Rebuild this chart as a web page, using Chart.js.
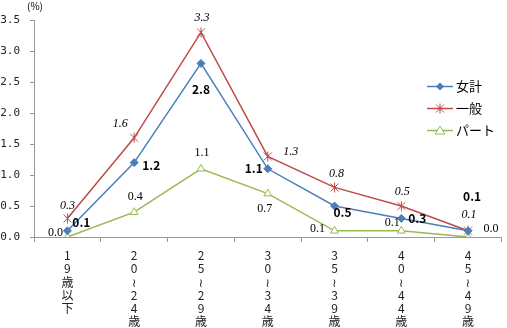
<!DOCTYPE html>
<html>
<head>
<meta charset="utf-8">
<script src="https://cdn.jsdelivr.net/npm/chart.js@4.4.1/dist/chart.umd.min.js"></script>
<style>
  html, body { margin: 0; padding: 0; background: #fff; }
  #wrap { position: relative; width: 507px; height: 328px; }
</style>
</head>
<body>
<div id="wrap"><canvas id="c" width="507" height="328"></canvas></div>
<script>
// Age groups (written vertically, one character per line)
const categories = [
  ['1','9','歳','以','下'],
  ['2','0','≀','2','4','歳'],
  ['2','5','≀','2','9','歳'],
  ['3','0','≀','3','4','歳'],
  ['3','5','≀','3','9','歳'],
  ['4','0','≀','4','4','歳'],
  ['4','5','≀','4','9','歳']
];
const seriesNames = ['女計', '一般', 'パート'];
const womenTotal = [0.1, 1.2, 2.8, 1.1, 0.5, 0.3, 0.1];
const general    = [0.3, 1.6, 3.3, 1.3, 0.8, 0.5, 0.1];
const partTime   = [0.0, 0.4, 1.1, 0.7, 0.1, 0.1, 0.0];
const yTicks     = [0, 0.5, 1.0, 1.5, 2.0, 2.5, 3.0, 3.5];

const colors = ['#4a7ebb', '#be4b48', '#98b954'];

// Per-point label offsets (px from the marker), styling only
const labelOffsets = [
  [[14,-8],[17,3],[0,26],[-14,0],[8,6],[16,0],[4,-34]],
  [[0,-13],[-14,-14],[1,-15],[23,-5],[2,-14],[1,-14],[1,-16]],
  [[-12,-4],[1,-15],[1,-16],[-3,15],[-17,-2],[-9,-8],[23,-8]]
];
const labelFonts = [
  'bold 12px "Noto Sans CJK JP", "DejaVu Sans"',
  'italic 12px "Liberation Serif", serif',
  '12px "Liberation Serif", serif'
];

// asterisk-style marker: x with a vertical stroke
function starMarker(color) {
  const cv = document.createElement('canvas');
  cv.width = 11; cv.height = 11;
  const g = cv.getContext('2d');
  g.strokeStyle = color; g.lineWidth = 1;
  g.beginPath();
  g.moveTo(1.5,1.5); g.lineTo(9.5,9.5);
  g.moveTo(9.5,1.5); g.lineTo(1.5,9.5);
  g.moveTo(5.5,0.5); g.lineTo(5.5,10.5);
  g.stroke();
  return cv;
}
const starImg = starMarker(colors[1]);

const valueLabels = {
  id: 'valueLabels',
  afterDatasetsDraw(chart) {
    const ctx = chart.ctx;
    ctx.save();
    ctx.textAlign = 'center';
    ctx.textBaseline = 'middle';
    ctx.fillStyle = '#000';
    chart.data.datasets.forEach((ds, di) => {
      const meta = chart.getDatasetMeta(di);
      ctx.font = labelFonts[di];
      meta.data.forEach((pt, i) => {
        const off = labelOffsets[di][i];
        ctx.fillText(ds.data[i].toFixed(1), pt.x + off[0], pt.y + off[1]);
      });
    });
    ctx.restore();
  }
};

const sideLegend = {
  id: 'sideLegend',
  afterDraw(chart) {
    const ctx = chart.ctx;
    ctx.save();
    const x0 = 427, x1 = 453, ys = [86.5, 108.5, 130.5];
    chart.data.datasets.forEach((ds, di) => {
      const y = ys[di];
      ctx.strokeStyle = ds.borderColor;
      ctx.lineWidth = 1.5;
      ctx.beginPath(); ctx.moveTo(x0, y); ctx.lineTo(x1, y); ctx.stroke();
      const cx = (x0 + x1) / 2;
      if (di === 0) {
        ctx.fillStyle = ds.borderColor;
        ctx.beginPath();
        ctx.moveTo(cx, y - 4); ctx.lineTo(cx + 4, y); ctx.lineTo(cx, y + 4); ctx.lineTo(cx - 4, y);
        ctx.closePath(); ctx.fill();
      } else if (di === 1) {
        ctx.drawImage(starImg, cx - 5.5, y - 5.5);
      } else {
        ctx.fillStyle = '#fff';
        ctx.lineWidth = 1;
        ctx.beginPath();
        ctx.moveTo(cx, y - 4.5); ctx.lineTo(cx + 5, y + 3.5); ctx.lineTo(cx - 5, y + 3.5);
        ctx.closePath(); ctx.fill(); ctx.stroke();
      }
      ctx.fillStyle = '#000';
      ctx.font = '13px "Noto Sans CJK JP"';
      ctx.textAlign = 'left';
      ctx.textBaseline = 'middle';
      ctx.fillText(ds.label, 456, y);
    });
    // unit caption
    ctx.font = '10px "Noto Sans CJK JP"';
    ctx.textAlign = 'left';
    ctx.fillText('(%)', 27, 6);
    ctx.restore();
  }
};

new Chart(document.getElementById('c'), {
  type: 'line',
  data: {
    labels: categories,
    datasets: [
      { label: seriesNames[0], data: womenTotal, borderColor: colors[0], backgroundColor: colors[0],
        borderWidth: 1.5, pointStyle: 'rectRot', pointRadius: 4, pointBorderWidth: 1 },
      { label: seriesNames[1], data: general, borderColor: colors[1], backgroundColor: colors[1],
        borderWidth: 1.5, pointStyle: starImg },
      { label: seriesNames[2], data: partTime, borderColor: colors[2], backgroundColor: '#fff',
        borderWidth: 1.5, pointStyle: 'triangle', pointRadius: 4.5, pointBorderWidth: 1 }
    ]
  },
  options: {
    responsive: false,
    animation: false,
    layout: { padding: { top: 20, right: 0, left: 0, bottom: 0 } },
    plugins: { legend: { display: false }, tooltip: { enabled: false } },
    scales: {
      x: {
        offset: true,
        grid: { offset: true, drawOnChartArea: false, tickLength: 5, color: '#999' },
        border: { color: '#999' },
        ticks: {
          autoSkip: false, maxRotation: 0, minRotation: 0, padding: 7,
          color: '#222',
          font: { family: '"Noto Sans CJK JP", "DejaVu Sans"', size: 12, lineHeight: 1.1 }
        },
        afterFit(scale) { scale.height = 91; scale.paddingLeft = 0; scale.paddingRight = 0; }
      },
      y: {
        min: 0, max: 3.5,
        afterBuildTicks(scale) { scale.ticks = yTicks.map(v => ({ value: v })); },
        grid: { drawOnChartArea: false, tickLength: 4, color: '#999' },
        border: { color: '#999' },
        ticks: {
          padding: 10, color: '#222',
          font: { family: '"DejaVu Sans Mono", monospace', size: 11 },
          callback: v => Number(v).toFixed(1)
        },
        afterFit(scale) { scale.width = 34; }
      }
    }
  },
  plugins: [valueLabels, sideLegend]
});
</script>
</body>
</html>
